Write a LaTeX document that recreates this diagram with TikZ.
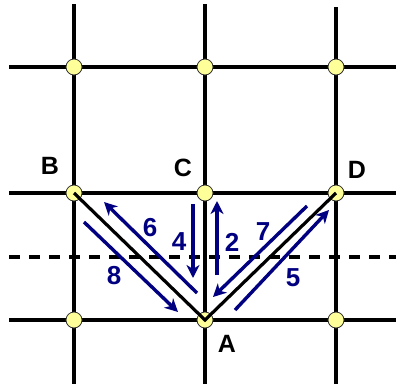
\documentclass[tikz,border=0pt]{standalone}
\usepackage{fontspec}
\setmainfont{Liberation Sans}
\usetikzlibrary{arrows.meta}
\definecolor{dotfill}{HTML}{FFFF99}
\definecolor{arrblue}{HTML}{000080}
\begin{document}
\begin{tikzpicture}[x=1pt,y=-1pt,
  gridline/.style={line width=3.6pt,black},
  dashline/.style={line width=3.4pt,black,dash pattern=on 11pt off 9pt},
  vline/.style={line width=3.2pt,black},
  gdot/.style={circle,draw=black!80,line width=0.8pt,fill=dotfill,minimum size=16pt,inner sep=0pt},
  barrow/.style={line width=3.4pt,arrblue,-{Stealth[length=13pt,width=13pt,inset=4pt]}},
  lbl/.style={font=\fontsize{25}{25}\selectfont\bfseries,text=black,inner sep=0pt},
  nlbl/.style={font=\fontsize{26}{26}\selectfont\bfseries,text=arrblue,inner sep=0pt}]
\useasboundingbox (0,0) rectangle (396,389);
% grid
\draw[gridline] (74,4) -- (74,384);
\draw[gridline] (205,4) -- (205,384);
\draw[gridline] (336,7) -- (336,384);
\draw[gridline] (9,67) -- (396,67);
\draw[gridline] (9,193) -- (396,193);
\draw[gridline] (9,320) -- (396,320);
\draw[dashline] (9,257) -- (396,257);
% dots
\foreach \x/\n in {74/1,205/2,336/3}{
  \node[gdot] (t\n) at (\x,67) {};
  \node[gdot] (m\n) at (\x,193) {};
  \node[gdot] (b\n) at (\x,320) {};
}
% V lines
\draw[vline] (m1.center) -- (b2.center) -- (m3.center);
% labels
\node[lbl] (lB) at (50,166) {B};
\node[lbl] (lC) at (183,168) {C};
\node[lbl] (lD) at (357,170) {D};
\node[lbl] (lA) at (227,344) {A};
% arrows
\coordinate (s8) at (84,222); \coordinate (e8) at (178,312);
\coordinate (s6) at (197,293); \coordinate (e6) at (104,202);
\coordinate (s4) at (193,204); \coordinate (e4) at (193,278);
\coordinate (s2) at (217,275); \coordinate (e2) at (217,201);
\coordinate (s7) at (307,206); \coordinate (e7) at (213,297);
\coordinate (s5) at (235,310); \coordinate (e5) at (329,210);
\draw[barrow] (s8) -- (e8);
\draw[barrow] (s6) -- (e6);
\draw[barrow] (s4) -- (e4);
\draw[barrow] (s2) -- (e2);
\draw[barrow] (s7) -- (e7);
\draw[barrow] (s5) -- (e5);
\node[nlbl] (n6) at (150,228) {6};
\node[nlbl] (n4) at (179,242) {4};
\node[nlbl] (n2) at (232,242) {2};
\node[nlbl] (n7) at (263,232) {7};
\node[nlbl] (n8) at (114,276) {8};
\node[nlbl] (n5) at (293,278) {5};
\end{tikzpicture}
\end{document}
